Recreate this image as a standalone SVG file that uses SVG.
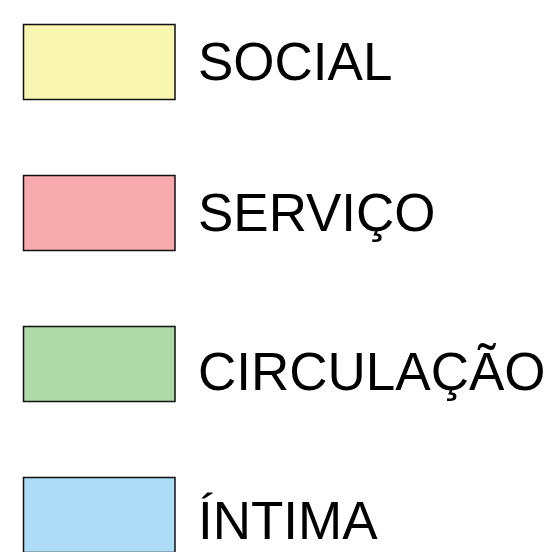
<svg xmlns="http://www.w3.org/2000/svg" width="558" height="552" viewBox="0 0 558 552">
<style>
.box{stroke:#111;stroke-width:1.5}
.lbl{font-family:"Liberation Sans",Arial,sans-serif;font-size:53px;fill:#000}
</style>
<rect width="558" height="552" fill="#fff"/>
<g id="social"><rect class="box" x="23.5" y="24.5" width="151.5" height="75" fill="#f8f6b0"/><text class="lbl" x="198" y="79.5">SOCIAL</text></g>
<g id="servico"><rect class="box" x="23.5" y="175.5" width="151.5" height="75" fill="#f7aaae"/><text class="lbl" x="198" y="231">SERVIÇO</text></g>
<g id="circulacao"><rect class="box" x="23.5" y="326.5" width="151.5" height="75" fill="#b0d9aa"/><text class="lbl" x="198" y="390">CIRCULAÇÃO</text></g>
<g id="intima"><rect class="box" x="23.5" y="477.5" width="151.5" height="75" fill="#acdcf6"/><text class="lbl" x="198" y="538.5">ÍNTIMA</text></g>
<g id="connectors"/>
</svg>
